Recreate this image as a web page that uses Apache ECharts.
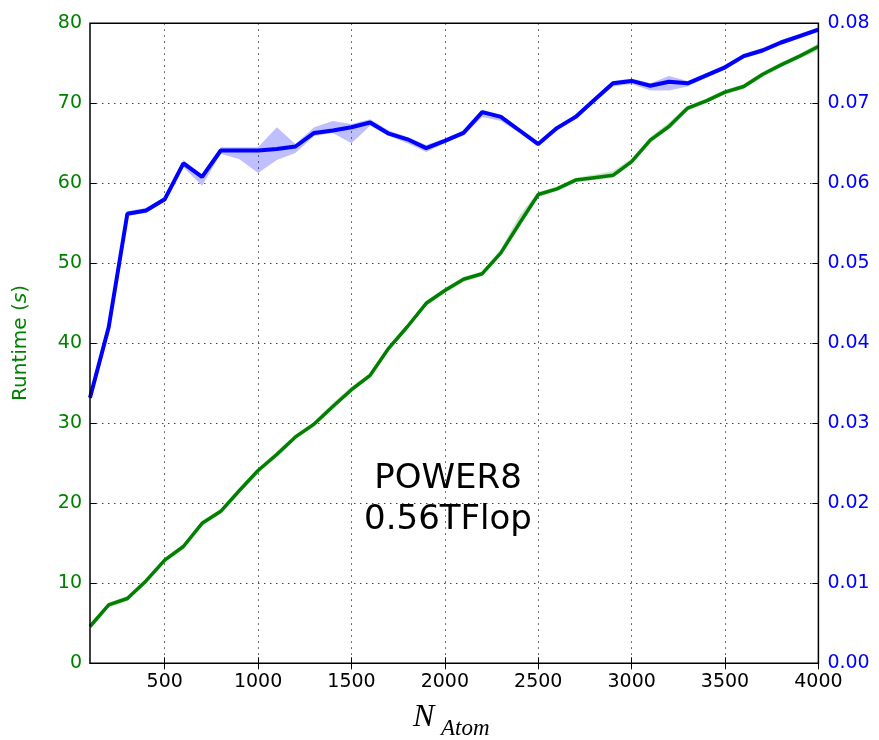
<!DOCTYPE html>
<html>
<head>
<meta charset="utf-8">
<script src="https://cdn.jsdelivr.net/npm/echarts@6/dist/echarts.min.js"></script>
<style>
html,body{margin:0;padding:0;background:#fff;}
#chart{width:879px;height:740px;}
</style>
</head>
<body>
<div id="chart"></div>
<script>
// ---- data ----
const nAtom = [100,200,300,400,500,600,700,800,900,1000,1100,1200,1300,1400,1500,1600,1700,1800,1900,2000,
               2100,2200,2300,2400,2500,2600,2700,2800,2900,3000,3100,3200,3300,3400,3500,3600,3700,3800,3900,4000];
// Runtime (s), left axis (green)
const runtime = [4.6,7.3,8.1,10.3,12.9,14.6,17.5,19.0,21.6,24.1,26.1,28.3,29.9,32.1,34.2,36.0,39.4,42.1,45.0,46.6,
                 48.0,48.7,51.3,55.0,58.6,59.3,60.4,60.7,61.0,62.7,65.4,67.1,69.4,70.3,71.4,72.1,73.6,74.8,75.9,77.1];
const runtimeLow = [4.3,7.0,7.8,10.0,12.6,14.3,17.2,18.7,21.3,23.8,25.8,28.0,29.6,31.8,33.9,35.7,39.1,41.8,44.7,46.3,
                    47.7,48.4,51.0,54.7,58.3,59.0,60.1,60.4,60.7,62.4,65.1,66.8,69.1,70.0,71.1,71.8,73.3,74.5,75.6,76.6];
const runtimeHigh = [4.9,7.6,8.4,10.6,13.2,14.9,17.8,19.3,21.9,24.4,26.5,28.6,30.2,32.5,34.6,36.3,39.7,42.4,45.3,46.9,
                     48.3,49.0,51.8,56.0,58.9,59.6,60.7,61.1,61.5,63.1,65.8,67.6,69.7,70.6,71.7,72.4,73.9,75.1,76.2,77.5];
// Time per atom, right axis (blue)
const perAtom = [0.0332,0.0420,0.0562,0.0566,0.0580,0.0625,0.0608,0.0641,0.0641,0.0641,0.0643,0.0646,0.0663,0.0666,0.0670,0.0676,0.0662,0.0655,0.0644,0.0653,
                 0.0663,0.0689,0.0683,0.0666,0.0649,0.0669,0.0683,0.0704,0.0725,0.0728,0.0722,0.0727,0.0725,0.0735,0.0745,0.0759,0.0766,0.0776,0.0784,0.0792];
const perAtomLow = [0.0329,0.0417,0.0559,0.0563,0.0577,0.0620,0.0597,0.0637,0.0630,0.0613,0.0629,0.0638,0.0659,0.0663,0.0650,0.0672,0.0659,0.0650,0.0639,0.0650,
                    0.0660,0.0683,0.0678,0.0663,0.0646,0.0666,0.0680,0.0701,0.0721,0.0724,0.0716,0.0716,0.0721,0.0732,0.0742,0.0756,0.0763,0.0773,0.0781,0.0789];
const perAtomHigh = [0.0335,0.0423,0.0565,0.0569,0.0583,0.0629,0.0611,0.0645,0.0645,0.0645,0.0670,0.0649,0.0670,0.0678,0.0674,0.0680,0.0666,0.0658,0.0648,0.0656,
                     0.0666,0.0692,0.0686,0.0669,0.0652,0.0672,0.0686,0.0707,0.0728,0.0731,0.0725,0.0734,0.0728,0.0738,0.0748,0.0762,0.0769,0.0779,0.0787,0.0795];
const xTicks = [500,1000,1500,2000,2500,3000,3500,4000];
const annotation = ['POWER8','0.56TFlop'];

// ---- helpers ----
const pairs = (ys) => nAtom.map((x,i)=>[x, ys[i]]);
const bandData = (lo, hi) => nAtom.map((x,i)=>[x, lo[i], hi[i]]);
function bandRender(lo, hi, fill) {
  return function (params, api) {
    if (params.dataIndex !== 0) return null;
    const top = nAtom.map((x,i)=>api.coord([x, hi[i]]));
    const bot = nAtom.map((x,i)=>api.coord([x, lo[i]])).reverse();
    return {type:'polygon', shape:{points: top.concat(bot)}, style:{fill: fill}, silent:true};
  };
}

const GREEN = '#008000';
const BLUE = '#0000ff';
const FONT = 'DejaVu Sans';

const chart = echarts.init(document.getElementById('chart'), null, {renderer:'canvas'});
const gridLine = {show:true, lineStyle:{color:'#444', type:[1.5,4.5], width:1}};
const option = {
  animation:false,
  backgroundColor:'#fff',
  grid:{left:90, right:60.6, top:23.3, bottom:76.7, show:true, borderColor:'#000', borderWidth:1.5, backgroundColor:'transparent', z:10},
  xAxis:[
    {type:'value', min:100, max:4000, position:'bottom',
     axisLine:{show:false},
     axisTick:{show:true, inside:true, length:6, customValues:xTicks, lineStyle:{color:'#000', width:1}},
     axisLabel:{show:true, customValues:xTicks, margin:9, color:'#000', fontFamily:FONT, fontSize:19, formatter:(v)=>String(v)},
     splitLine:gridLine},
    {type:'value', min:100, max:4000, position:'top',
     axisLine:{show:false},
     axisTick:{show:true, inside:true, length:6, customValues:xTicks, lineStyle:{color:'#000', width:1}},
     axisLabel:{show:false},
     splitLine:{show:false}}
  ],
  yAxis:[
    {type:'value', min:0, max:80, interval:10, position:'left',
     axisLine:{show:false},
     axisTick:{show:true, inside:true, length:6, lineStyle:{color:'#000', width:1}},
     axisLabel:{color:GREEN, fontFamily:FONT, fontSize:19, margin:8},
     splitLine:gridLine},
    {type:'value', min:0, max:0.08, interval:0.01, position:'right',
     axisLine:{show:false},
     axisTick:{show:true, inside:true, length:6, lineStyle:{color:'#000', width:1}},
     axisLabel:{color:BLUE, fontFamily:FONT, fontSize:19, margin:9, formatter:(v)=>v.toFixed(2)},
     splitLine:{show:false}}
  ],
  graphic:[
    {type:'text', x:21, y:343, rotation:Math.PI/2, z:20,
     style:{text:'{a|Runtime (}{b|s}{a|)}', align:'center', verticalAlign:'middle',
            rich:{a:{fontFamily:FONT, fontSize:20, fill:GREEN}, b:{fontFamily:FONT, fontSize:20, fontStyle:'italic', fill:GREEN}}}},
    {type:'text', x:413, y:718, z:20,
     style:{text:'N', fontFamily:'Liberation Serif', fontStyle:'italic', fontSize:32, fill:'#000', align:'left', verticalAlign:'middle'}},
    {type:'text', x:441, y:729, z:20,
     style:{text:'Atom', fontFamily:'Liberation Serif', fontStyle:'italic', fontSize:23, fill:'#000', align:'left', verticalAlign:'middle'}},
    {type:'text', x:448, y:500, z:20,
     style:{text:annotation.join('\n'), fontFamily:FONT, fontSize:34, lineHeight:41, fill:'#000', align:'center', verticalAlign:'middle'}}
  ],
  series:[
    {name:'gBand', type:'custom', xAxisIndex:0, yAxisIndex:0, data:bandData(runtimeLow, runtimeHigh),
     encode:{x:0, y:[1,2]}, renderItem:bandRender(runtimeLow, runtimeHigh, 'rgba(0,128,0,0.22)'), silent:true, z:2, clip:true},
    {name:'Runtime', type:'line', xAxisIndex:0, yAxisIndex:0, data:pairs(runtime), symbol:'none',
     lineStyle:{color:GREEN, width:3.5}, z:3},
    {name:'bBand', type:'custom', xAxisIndex:0, yAxisIndex:1, data:bandData(perAtomLow, perAtomHigh),
     encode:{x:0, y:[1,2]}, renderItem:bandRender(perAtomLow, perAtomHigh, 'rgba(0,0,255,0.25)'), silent:true, z:4, clip:true},
    {name:'PerAtom', type:'line', xAxisIndex:0, yAxisIndex:1, data:pairs(perAtom), symbol:'none',
     lineStyle:{color:BLUE, width:4}, z:5}
  ]
};
chart.setOption(option);
</script>
</body>
</html>
